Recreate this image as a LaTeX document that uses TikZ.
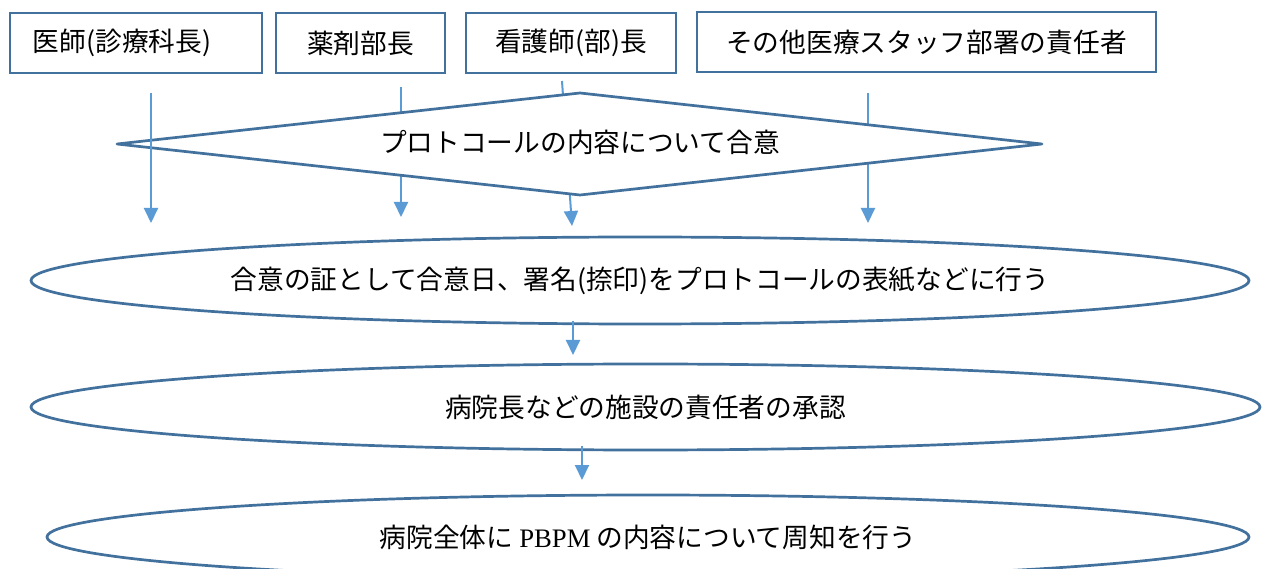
\documentclass[tikz,border=0pt]{standalone}
\usepackage{fontspec}
\setmainfont{Noto Sans CJK JP}
\newfontfamily\latserif{Liberation Serif}
\usetikzlibrary{arrows.meta,shapes.geometric}
\definecolor{edgeblue}{HTML}{41719C}
\definecolor{arrowblue}{HTML}{5B9BD5}
\newcommand{\lowtext}[1]{\raisebox{-3pt}{#1}}
\begin{document}
\begin{tikzpicture}[x=1pt,y=-1pt,
  every node/.style={font=\fontsize{26.7}{31}\selectfont, text=black},
  box/.style={draw=edgeblue, line width=2.7pt, minimum height=60pt, inner sep=0pt, fill=white},
  oval/.style={ellipse, draw=edgeblue, line width=2.7pt, inner sep=0pt, fill=white},
  flow/.style={draw=arrowblue, line width=2pt, -{Triangle[width=14pt,length=15pt]}},
  decision/.style={draw=edgeblue, line width=2.7pt, fill=white, line join=round}]
\fill[white] (0,0) rectangle (1262,569);
\useasboundingbox (0,0) rectangle (1262,569);

% top boxes
\node[box, minimum width=252pt] (b1) at (136,43) {\hspace*{-28pt}\lowtext{医師(診療科長)}};
\node[box, minimum width=169pt] (b2) at (360.5,43) {\lowtext{薬剤部長}};
\node[box, minimum width=210pt] (b3) at (571,43) {\lowtext{看護師(部)長}};
\node[box, minimum width=459pt] (b4) at (926.5,42) {\lowtext{その他医療スタッフ部署の責任者}};

% ellipses
\node[oval, minimum width=1218pt, minimum height=87pt] (e1) at (640,280.5) {\lowtext{合意の証として合意日、署名(捺印)をプロトコールの表紙などに行う}};
\node[oval, minimum width=1229pt, minimum height=86pt] (e2) at (645.5,407) {\lowtext{病院長などの施設の責任者の承認}};
\node[oval, minimum width=1202pt, minimum height=84pt] (e3) at (648,537) {\lowtext{病院全体に {\latserif PBPM} の内容について周知を行う}};

% arrow end points
\coordinate (a1s) at (151,93);  \coordinate (a1e) at (151,223);
\coordinate (a2s) at (401,87);  \coordinate (a2e) at (401,217);
\coordinate (a3s) at (562,81);  \coordinate (a3e) at (572,226);
\coordinate (a4s) at (868,93);  \coordinate (a4e) at (868,223);
\coordinate (a5s) at (573,321); \coordinate (a5e) at (573,355);
\coordinate (a6s) at (582,446); \coordinate (a6e) at (582,480);

% arrows behind the diamond
\draw[flow] (a2s) -- (a2e);
\draw[flow] (a3s) -- (a3e);
\draw[flow] (a4s) -- (a4e);

% diamond
\coordinate (dl) at (117,144);
\coordinate (dt) at (580,93);
\coordinate (dr) at (1042,144);
\coordinate (db) at (580,195);
\draw[decision] (dl) -- (dt) -- (dr) -- (db) -- cycle;
\node (dm) at (580,142) {\lowtext{プロトコールの内容について合意}};

% arrow in front of the diamond
\draw[flow] (a1s) -- (a1e);

% arrows between ellipses
\draw[flow] (a5s) -- (a5e);
\draw[flow] (a6s) -- (a6e);
\end{tikzpicture}
\end{document}
